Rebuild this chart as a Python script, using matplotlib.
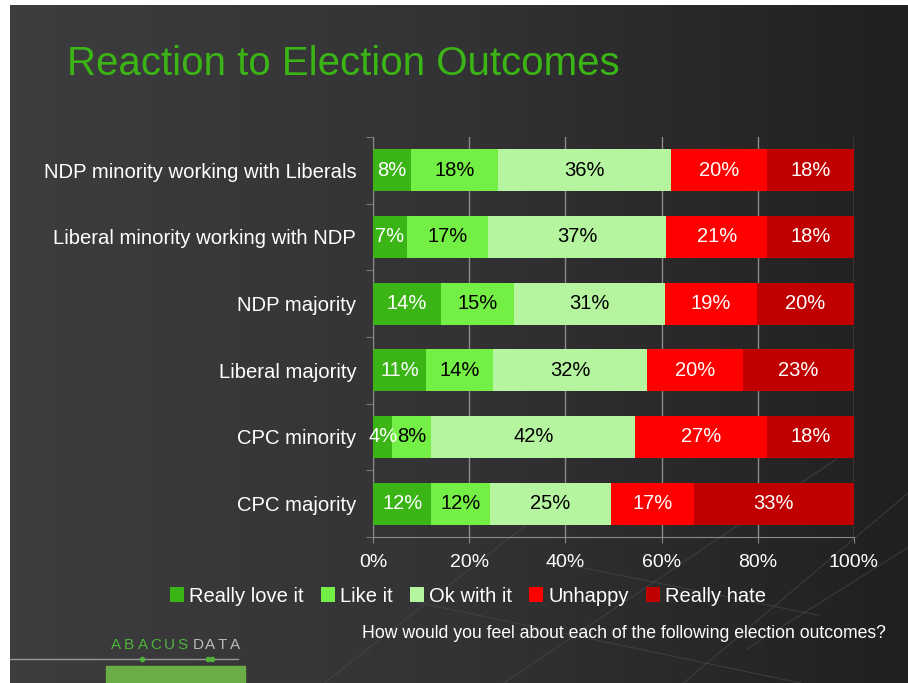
import matplotlib.pyplot as plt
from matplotlib.patches import Rectangle
from matplotlib.lines import Line2D
from matplotlib.colors import LinearSegmentedColormap
import numpy as np

plt.rcParams['font.family'] = ['Liberation Sans', 'DejaVu Sans']

categories = ["NDP minority working with Liberals", "Liberal minority working with NDP",
              "NDP majority", "Liberal majority", "CPC minority", "CPC majority"]
series = ["Really love it", "Like it", "Ok with it", "Unhappy", "Really hate"]
really_love = [8, 7, 14, 11, 4, 12]
like_it = [18, 17, 15, 14, 8, 12]
ok_with_it = [36, 37, 31, 32, 42, 25]
unhappy = [20, 21, 19, 20, 27, 17]
really_hate = [18, 18, 20, 23, 18, 33]

colors = ["#3bb515", "#74ef45", "#b6f59f", "#ff0000", "#c00000"]
text_colors = ["white", "black", "black", "white", "white"]

fig = plt.figure(figsize=(9.08, 6.83), dpi=100)
fig.patch.set_facecolor("white")

# slide background with horizontal gradient
bg = fig.add_axes([10 / 908, 0, 898 / 908, 678 / 683])
grad = np.linspace(0, 1, 256).reshape(1, -1)
cmap = LinearSegmentedColormap.from_list("bg", ["#3d3d3f", "#333234", "#221f20"])
bg.imshow(grad, aspect="auto", cmap=cmap, extent=[0, 1, 0, 1])
bg.set_xlim(0, 1)
bg.set_ylim(0, 1)
bg.axis("off")

# faint decorative network lines
deco = [((0.35, 0.0), (0.62, 0.28)), ((0.55, 0.0), (0.92, 0.33)),
        ((0.75, 0.0), (1.0, 0.28)), ((0.45, 0.12), (0.88, 0.0)),
        ((0.60, 0.18), (0.90, 0.10)), ((0.82, 0.05), (1.0, 0.2))]
for (x0, y0), (x1, y1) in deco:
    bg.plot([x0, x1], [y0, y1], color="#4a4a4c", lw=0.8, alpha=0.6)

ax = fig.add_axes([373 / 908, 1 - 537 / 683, 481 / 908, 400 / 683])
ax.set_facecolor("none")

data = np.array([really_love, like_it, ok_with_it, unhappy, really_hate], dtype=float)
shares = data / data.sum(axis=0) * 100  # 100% stacked
y = np.arange(len(categories))
left = np.zeros(len(categories))
for vals, shr, name, c, tc in zip(data, shares, series, colors, text_colors):
    bars = ax.barh(y, shr, left=left, height=0.63, color=c, label=name, zorder=3)
    for b, v in zip(bars, vals):
        ax.text(b.get_x() + b.get_width() / 2, b.get_y() + b.get_height() / 2,
                f"{int(v)}%", ha="center", va="center", color=tc, fontsize=14.5, zorder=4)
    left += shr

ax.set_xlim(0, 100)
ax.set_ylim(len(categories) - 0.5, -0.5)
ax.set_xticks(np.arange(0, 101, 20))
ax.set_xticklabels([f"{t}%" for t in range(0, 101, 20)], color="white", fontsize=14)
ax.set_yticks(y)
ax.set_yticklabels(categories, color="white", fontsize=14.6)
ax.set_yticks(np.arange(-0.5, len(categories)), minor=True)
ax.tick_params(axis="y", which="major", length=0, pad=12)
ax.tick_params(axis="y", which="minor", length=5, color="#888888")
ax.tick_params(axis="x", length=4, color="#888888", pad=8)
ax.grid(axis="x", color="#8a8a8a", lw=1, zorder=0)
for s in ["top", "right"]:
    ax.spines[s].set_visible(False)
for s in ["left", "bottom"]:
    ax.spines[s].set_color("#8a8a8a")

fig.text(67 / 908, 1 - 64 / 683, "Reaction to Election Outcomes", color="#3bb515",
         fontsize=29, va="center", ha="left")

leg = fig.legend(loc="center", bbox_to_anchor=(468 / 908, 1 - 596 / 683), ncol=5,
                 frameon=False, fontsize=14.5, handlelength=0.7, handleheight=0.7,
                 handletextpad=0.25, columnspacing=0.85, labelcolor="white")

fig.text(886 / 908, 1 - 633 / 683,
         "How would you feel about each of the following election outcomes?",
         color="white", fontsize=12.7, ha="right", va="center")

# Abacus Data logo
for i, ch in enumerate("ABACUS"):
    fig.text((116 + i * 13.3) / 908, 1 - 645 / 683, ch, color="#4fb33a", fontsize=11,
             ha="center", va="center")
for i, ch in enumerate("DATA"):
    fig.text((198 + i * 12.3) / 908, 1 - 645 / 683, ch, color="#bbbbbb", fontsize=11,
             ha="center", va="center")
fig.add_artist(Line2D([10 / 908, 238 / 908], [1 - 659 / 683] * 2, color="#999999", lw=1))
fig.add_artist(Line2D([142 / 908, 208 / 908, 212 / 908], [1 - 659 / 683] * 3, ls="none",
                      marker="o", ms=3, color="#4fb33a"))
fig.add_artist(Rectangle((106 / 908, 0), 139 / 908, 17 / 683, color="#6aae45"))

fig.savefig("out.png", dpi=100)
